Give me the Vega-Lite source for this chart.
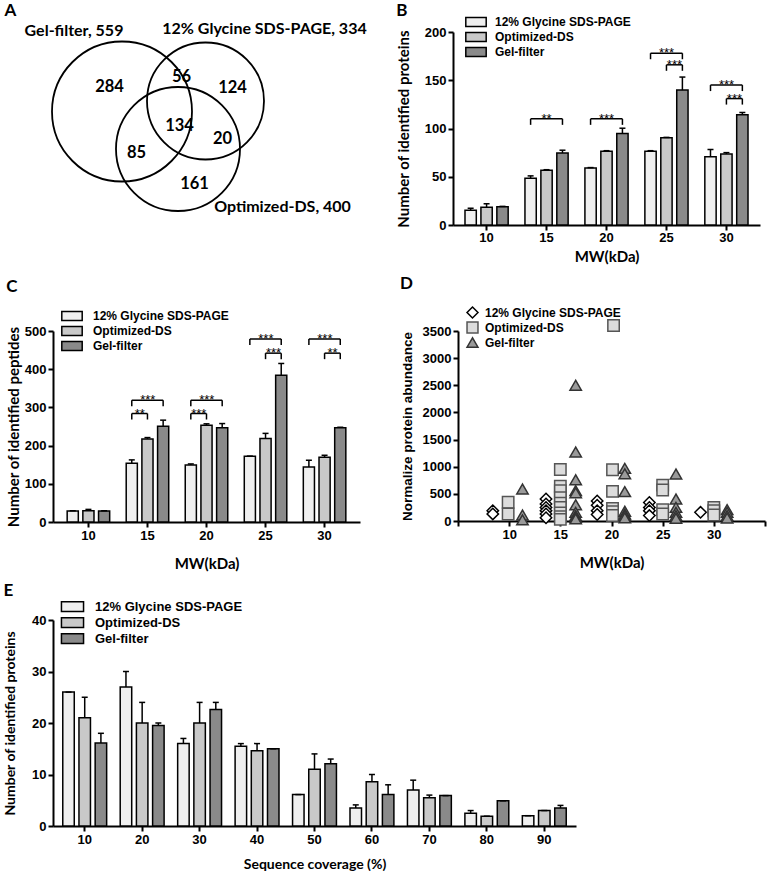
{
  "$schema": "https://vega.github.io/schema/vega-lite/v6.json",
  "background": "white",
  "padding": {"left": 3, "top": 2, "right": 2, "bottom": 0},
  "config": {
    "view": {"stroke": null},
    "axis": {"domainColor": "black", "domainWidth": 2, "tickColor": "black", "tickWidth": 2, "tickSize": 5, "labelFont": "Liberation Sans", "labelFontWeight": "bold", "labelFontSize": 13, "labelColor": "black", "labelPadding": 2, "labelOverlap": false, "titleFont": "Lato", "titleFontWeight": "bold", "titleFontSize": 15, "titleColor": "black", "grid": false},
    "legend": {"orient": "none", "labelFont": "Liberation Sans", "labelFontWeight": "bold", "labelFontSize": 12, "labelColor": "black", "symbolStrokeColor": "black", "symbolStrokeWidth": 1.5, "symbolType": "M-1.7,-0.75H1.7V0.75H-1.7Z", "symbolSize": 144, "rowPadding": -4, "labelOffset": 12, "padding": 0},
    "title": {"anchor": "start", "frame": "bounds", "font": "Lato", "fontSize": 17, "fontWeight": "bold", "color": "black"}
  },
  "datasets": {
    "vennCircles": [
      {"set": "Gel-filter", "cx": 122.5, "cy": 112.5, "r": 70},
      {"set": "12% Glycine SDS-PAGE", "cx": 206, "cy": 102, "r": 58.5},
      {"set": "Optimized-DS", "cx": 178.5, "cy": 150, "r": 62}
    ],
    "vennText": [
      {"kind": "label", "text": "Gel-filter, 559", "x": 74.5, "y": 32},
      {"kind": "label", "text": "12% Glycine SDS-PAGE, 334", "x": 265, "y": 30},
      {"kind": "label", "text": "Optimized-DS, 400", "x": 283, "y": 208},
      {"kind": "count", "text": "284", "x": 110, "y": 88},
      {"kind": "count", "text": "56", "x": 182, "y": 78},
      {"kind": "count", "text": "124", "x": 233, "y": 89},
      {"kind": "count", "text": "134", "x": 180, "y": 127},
      {"kind": "count", "text": "20", "x": 223, "y": 140},
      {"kind": "count", "text": "85", "x": 137, "y": 154},
      {"kind": "count", "text": "161", "x": 195, "y": 185}
    ],
    "bData": [
      {"mw": "10", "series": "12% Glycine SDS-PAGE", "value": 15.2, "hi": 17.3},
      {"mw": "10", "series": "Optimized-DS", "value": 18.5, "hi": 22},
      {"mw": "10", "series": "Gel-filter", "value": 18.8, "hi": 19.3},
      {"mw": "15", "series": "12% Glycine SDS-PAGE", "value": 48.4, "hi": 50.9},
      {"mw": "15", "series": "Optimized-DS", "value": 56.8, "hi": 57.3},
      {"mw": "15", "series": "Gel-filter", "value": 74.7, "hi": 77.5},
      {"mw": "20", "series": "12% Glycine SDS-PAGE", "value": 59, "hi": 59.5},
      {"mw": "20", "series": "Optimized-DS", "value": 76.3, "hi": 77},
      {"mw": "20", "series": "Gel-filter", "value": 94.8, "hi": 100.3},
      {"mw": "25", "series": "12% Glycine SDS-PAGE", "value": 76.3, "hi": 77},
      {"mw": "25", "series": "Optimized-DS", "value": 90.3, "hi": 90.8},
      {"mw": "25", "series": "Gel-filter", "value": 139.8, "hi": 153.3},
      {"mw": "30", "series": "12% Glycine SDS-PAGE", "value": 70.6, "hi": 78.2},
      {"mw": "30", "series": "Optimized-DS", "value": 73.6, "hi": 75},
      {"mw": "30", "series": "Gel-filter", "value": 114.2, "hi": 116.6}
    ],
    "bSig": [
      {"mw": "15", "from": "12% Glycine SDS-PAGE", "to": "Gel-filter", "level": 110, "label": "**"},
      {"mw": "20", "from": "12% Glycine SDS-PAGE", "to": "Gel-filter", "level": 110, "label": "***"},
      {"mw": "25", "from": "12% Glycine SDS-PAGE", "to": "Gel-filter", "level": 178, "label": "***"},
      {"mw": "25", "from": "Optimized-DS", "to": "Gel-filter", "level": 166, "label": "***"},
      {"mw": "30", "from": "12% Glycine SDS-PAGE", "to": "Gel-filter", "level": 145, "label": "***"},
      {"mw": "30", "from": "Optimized-DS", "to": "Gel-filter", "level": 131, "label": "***"}
    ],
    "cData": [
      {"mw": "10", "series": "12% Glycine SDS-PAGE", "value": 28.8, "hi": 29.5},
      {"mw": "10", "series": "Optimized-DS", "value": 29.7, "hi": 33},
      {"mw": "10", "series": "Gel-filter", "value": 28.8, "hi": 29.5},
      {"mw": "15", "series": "12% Glycine SDS-PAGE", "value": 153.8, "hi": 162.6},
      {"mw": "15", "series": "Optimized-DS", "value": 217.6, "hi": 221},
      {"mw": "15", "series": "Gel-filter", "value": 250.8, "hi": 266.6},
      {"mw": "20", "series": "12% Glycine SDS-PAGE", "value": 149.5, "hi": 152},
      {"mw": "20", "series": "Optimized-DS", "value": 253.3, "hi": 257},
      {"mw": "20", "series": "Gel-filter", "value": 247, "hi": 257.7},
      {"mw": "25", "series": "12% Glycine SDS-PAGE", "value": 172, "hi": 172.5},
      {"mw": "25", "series": "Optimized-DS", "value": 218.4, "hi": 232},
      {"mw": "25", "series": "Gel-filter", "value": 384.4, "hi": 415},
      {"mw": "30", "series": "12% Glycine SDS-PAGE", "value": 144, "hi": 161.6},
      {"mw": "30", "series": "Optimized-DS", "value": 169.4, "hi": 174.7},
      {"mw": "30", "series": "Gel-filter", "value": 247, "hi": 248}
    ],
    "cSig": [
      {"mw": "15", "from": "12% Glycine SDS-PAGE", "to": "Gel-filter", "level": 319, "label": "***"},
      {"mw": "15", "from": "12% Glycine SDS-PAGE", "to": "Optimized-DS", "level": 284, "label": "**"},
      {"mw": "20", "from": "12% Glycine SDS-PAGE", "to": "Gel-filter", "level": 319, "label": "***"},
      {"mw": "20", "from": "12% Glycine SDS-PAGE", "to": "Optimized-DS", "level": 284, "label": "***"},
      {"mw": "25", "from": "12% Glycine SDS-PAGE", "to": "Gel-filter", "level": 479, "label": "***"},
      {"mw": "25", "from": "Optimized-DS", "to": "Gel-filter", "level": 442, "label": "***"},
      {"mw": "30", "from": "12% Glycine SDS-PAGE", "to": "Gel-filter", "level": 479, "label": "***"},
      {"mw": "30", "from": "Optimized-DS", "to": "Gel-filter", "level": 442, "label": "**"}
    ],
    "dData": [
      {"series": "12% Glycine SDS-PAGE", "x": 8.4, "value": 190},
      {"series": "12% Glycine SDS-PAGE", "x": 8.4, "value": 130},
      {"series": "12% Glycine SDS-PAGE", "x": 13.6, "value": 405},
      {"series": "12% Glycine SDS-PAGE", "x": 13.6, "value": 313},
      {"series": "12% Glycine SDS-PAGE", "x": 13.6, "value": 250},
      {"series": "12% Glycine SDS-PAGE", "x": 13.6, "value": 190},
      {"series": "12% Glycine SDS-PAGE", "x": 13.6, "value": 130},
      {"series": "12% Glycine SDS-PAGE", "x": 13.6, "value": 60},
      {"series": "12% Glycine SDS-PAGE", "x": 18.6, "value": 370},
      {"series": "12% Glycine SDS-PAGE", "x": 18.6, "value": 290},
      {"series": "12% Glycine SDS-PAGE", "x": 18.6, "value": 190},
      {"series": "12% Glycine SDS-PAGE", "x": 18.6, "value": 120},
      {"series": "12% Glycine SDS-PAGE", "x": 23.7, "value": 340},
      {"series": "12% Glycine SDS-PAGE", "x": 23.7, "value": 250},
      {"series": "12% Glycine SDS-PAGE", "x": 23.7, "value": 190},
      {"series": "12% Glycine SDS-PAGE", "x": 23.7, "value": 100},
      {"series": "12% Glycine SDS-PAGE", "x": 28.7, "value": 160},
      {"series": "Optimized-DS", "x": 9.9, "value": 345},
      {"series": "Optimized-DS", "x": 9.9, "value": 130},
      {"series": "Optimized-DS", "x": 15.0, "value": 950},
      {"series": "Optimized-DS", "x": 15.0, "value": 640},
      {"series": "Optimized-DS", "x": 15.0, "value": 560},
      {"series": "Optimized-DS", "x": 15.0, "value": 430},
      {"series": "Optimized-DS", "x": 15.0, "value": 330},
      {"series": "Optimized-DS", "x": 15.0, "value": 250},
      {"series": "Optimized-DS", "x": 15.0, "value": 150},
      {"series": "Optimized-DS", "x": 15.0, "value": 80},
      {"series": "Optimized-DS", "x": 15.0, "value": 30},
      {"series": "Optimized-DS", "x": 20.2, "value": 3600},
      {"series": "Optimized-DS", "x": 20.1, "value": 945},
      {"series": "Optimized-DS", "x": 20.1, "value": 545},
      {"series": "Optimized-DS", "x": 20.1, "value": 230},
      {"series": "Optimized-DS", "x": 20.1, "value": 170},
      {"series": "Optimized-DS", "x": 20.1, "value": 100},
      {"series": "Optimized-DS", "x": 25.0, "value": 660},
      {"series": "Optimized-DS", "x": 25.0, "value": 570},
      {"series": "Optimized-DS", "x": 25.0, "value": 210},
      {"series": "Optimized-DS", "x": 25.0, "value": 130},
      {"series": "Optimized-DS", "x": 30.0, "value": 250},
      {"series": "Optimized-DS", "x": 30.0, "value": 190},
      {"series": "Optimized-DS", "x": 30.0, "value": 110},
      {"series": "Gel-filter", "x": 11.3, "value": 590},
      {"series": "Gel-filter", "x": 11.3, "value": 110},
      {"series": "Gel-filter", "x": 11.3, "value": 20},
      {"series": "Gel-filter", "x": 16.5, "value": 2500},
      {"series": "Gel-filter", "x": 16.5, "value": 1270},
      {"series": "Gel-filter", "x": 16.5, "value": 760},
      {"series": "Gel-filter", "x": 16.5, "value": 560},
      {"series": "Gel-filter", "x": 16.5, "value": 520},
      {"series": "Gel-filter", "x": 16.5, "value": 300},
      {"series": "Gel-filter", "x": 16.5, "value": 160},
      {"series": "Gel-filter", "x": 16.5, "value": 100},
      {"series": "Gel-filter", "x": 16.5, "value": 70},
      {"series": "Gel-filter", "x": 16.5, "value": 40},
      {"series": "Gel-filter", "x": 21.3, "value": 970},
      {"series": "Gel-filter", "x": 21.3, "value": 870},
      {"series": "Gel-filter", "x": 21.3, "value": 540},
      {"series": "Gel-filter", "x": 21.3, "value": 180},
      {"series": "Gel-filter", "x": 21.3, "value": 130},
      {"series": "Gel-filter", "x": 21.3, "value": 100},
      {"series": "Gel-filter", "x": 21.3, "value": 60},
      {"series": "Gel-filter", "x": 26.3, "value": 865},
      {"series": "Gel-filter", "x": 26.3, "value": 405},
      {"series": "Gel-filter", "x": 26.3, "value": 250},
      {"series": "Gel-filter", "x": 26.3, "value": 160},
      {"series": "Gel-filter", "x": 26.3, "value": 100},
      {"series": "Gel-filter", "x": 26.3, "value": 50},
      {"series": "Gel-filter", "x": 31.3, "value": 210},
      {"series": "Gel-filter", "x": 31.3, "value": 160},
      {"series": "Gel-filter", "x": 31.3, "value": 100},
      {"series": "Gel-filter", "x": 31.3, "value": 55}
    ],
    "eData": [
      {"cov": "10", "series": "12% Glycine SDS-PAGE", "value": 26, "hi": 26},
      {"cov": "10", "series": "Optimized-DS", "value": 21, "hi": 25},
      {"cov": "10", "series": "Gel-filter", "value": 16.1, "hi": 18},
      {"cov": "20", "series": "12% Glycine SDS-PAGE", "value": 27, "hi": 30},
      {"cov": "20", "series": "Optimized-DS", "value": 20, "hi": 24},
      {"cov": "20", "series": "Gel-filter", "value": 19.5, "hi": 20},
      {"cov": "30", "series": "12% Glycine SDS-PAGE", "value": 16, "hi": 17},
      {"cov": "30", "series": "Optimized-DS", "value": 20, "hi": 24},
      {"cov": "30", "series": "Gel-filter", "value": 22.6, "hi": 24},
      {"cov": "40", "series": "12% Glycine SDS-PAGE", "value": 15.5, "hi": 16},
      {"cov": "40", "series": "Optimized-DS", "value": 14.6, "hi": 16},
      {"cov": "40", "series": "Gel-filter", "value": 15, "hi": 15},
      {"cov": "50", "series": "12% Glycine SDS-PAGE", "value": 6.1, "hi": 6.1},
      {"cov": "50", "series": "Optimized-DS", "value": 11, "hi": 14},
      {"cov": "50", "series": "Gel-filter", "value": 12.1, "hi": 13},
      {"cov": "60", "series": "12% Glycine SDS-PAGE", "value": 3.5, "hi": 4.1},
      {"cov": "60", "series": "Optimized-DS", "value": 8.6, "hi": 10},
      {"cov": "60", "series": "Gel-filter", "value": 6.1, "hi": 8},
      {"cov": "70", "series": "12% Glycine SDS-PAGE", "value": 7, "hi": 8.9},
      {"cov": "70", "series": "Optimized-DS", "value": 5.5, "hi": 6},
      {"cov": "70", "series": "Gel-filter", "value": 5.9, "hi": 5.9},
      {"cov": "80", "series": "12% Glycine SDS-PAGE", "value": 2.5, "hi": 3},
      {"cov": "80", "series": "Optimized-DS", "value": 1.9, "hi": 1.9},
      {"cov": "80", "series": "Gel-filter", "value": 4.9, "hi": 4.9},
      {"cov": "90", "series": "12% Glycine SDS-PAGE", "value": 2, "hi": 2},
      {"cov": "90", "series": "Optimized-DS", "value": 3, "hi": 3},
      {"cov": "90", "series": "Gel-filter", "value": 3.5, "hi": 4}
    ]
  },
  "resolve": {"scale": {"fill": "independent", "shape": "independent", "stroke": "independent", "xOffset": "independent", "size": "independent"}, "legend": {"fill": "independent", "shape": "independent", "stroke": "independent"}},
  "spacing": 11,
  "align": "none",
  "vconcat": [
    {
      "hconcat": [
        {
          "title": {"text": "A", "frame": "group", "offset": 1, "dx": -48.5},
          "width": 338,
          "height": 215,
          "layer": [
            {
              "data": {"name": "vennCircles"},
              "mark": {"type": "point", "shape": "circle", "filled": false, "color": "black", "strokeWidth": 1.8, "opacity": 1},
              "encoding": {
                "x": {"field": "cx", "type": "quantitative", "scale": {"domain": [53.5, 391.5], "nice": false, "zero": false}, "axis": null},
                "y": {"field": "cy", "type": "quantitative", "scale": {"domain": [33, 248], "nice": false, "zero": false, "reverse": true}, "axis": null},
                "size": {"field": "r", "type": "quantitative", "scale": {"type": "pow", "exponent": 2, "domain": [0, 100], "range": [0, 40000]}, "legend": null}
              }
            },
            {
              "data": {"name": "vennText"},
              "transform": [{"filter": "datum.kind == 'label'"}],
              "mark": {"type": "text", "font": "Lato", "fontWeight": "bold", "fontSize": 16, "color": "black", "baseline": "middle"},
              "encoding": {
                "x": {"field": "x", "type": "quantitative"},
                "y": {"field": "y", "type": "quantitative"},
                "text": {"field": "text"}
              }
            },
            {
              "data": {"name": "vennText"},
              "transform": [{"filter": "datum.kind == 'count'"}],
              "mark": {"type": "text", "font": "Lato", "fontWeight": "bold", "fontSize": 16.5, "color": "black", "baseline": "middle"},
              "encoding": {
                "x": {"field": "x", "type": "quantitative"},
                "y": {"field": "y", "type": "quantitative"},
                "text": {"field": "text"}
              }
            }
          ]
        },
        {
          "title": {"text": "B", "offset": -5},
          "width": 307,
          "height": 193,
          "layer": [
            {
              "data": {"name": "bData"},
              "mark": {"type": "bar", "stroke": "black", "strokeWidth": 1.5},
              "encoding": {
                "x": {"field": "mw", "type": "nominal", "scale": {"paddingInner": 0.28, "paddingOuter": 0.2}, "axis": {"title": "MW(kDa)", "labelAngle": 0, "labelPadding": 1, "titlePadding": 5}},
                "xOffset": {"field": "series", "type": "nominal", "scale": {"domain": ["12% Glycine SDS-PAGE", "Optimized-DS", "Gel-filter"], "paddingInner": 0.29, "paddingOuter": 0}},
                "y": {"field": "value", "type": "quantitative", "stack": null, "scale": {"domain": [0, 200], "nice": false}, "axis": {"title": "Number of identified proteins", "values": [0, 50, 100, 150, 200], "labelOverlap": false, "titlePadding": 13}},
                "fill": {"field": "series", "type": "nominal", "scale": {"domain": ["12% Glycine SDS-PAGE", "Optimized-DS", "Gel-filter"], "range": ["#efefef", "#c9c9c9", "#8a8a8a"]}, "legend": {"title": null, "legendX": 16, "legendY": -17}}
              }
            },
            {
              "data": {"name": "bData"},
              "mark": {"type": "rule", "color": "black", "strokeWidth": 1.5},
              "encoding": {
                "x": {"field": "mw", "type": "nominal"},
                "xOffset": {"field": "series", "type": "nominal", "scale": {"domain": ["12% Glycine SDS-PAGE", "Optimized-DS", "Gel-filter"]}},
                "y": {"field": "value", "type": "quantitative"},
                "y2": {"field": "hi"}
              }
            },
            {
              "data": {"name": "bData"},
              "mark": {"type": "tick", "orient": "horizontal", "color": "black", "size": 6, "thickness": 1.5, "opacity": 1},
              "encoding": {
                "x": {"field": "mw", "type": "nominal"},
                "xOffset": {"field": "series", "type": "nominal", "scale": {"domain": ["12% Glycine SDS-PAGE", "Optimized-DS", "Gel-filter"]}},
                "y": {"field": "hi", "type": "quantitative"}
              }
            },
            {
              "data": {"name": "bSig"},
              "transform": [{"fold": ["from", "to"], "as": ["end", "series"]}],
              "mark": {"type": "line", "color": "black", "strokeWidth": 1.5},
              "encoding": {
                "x": {"field": "mw", "type": "nominal"},
                "xOffset": {"field": "series", "type": "nominal", "scale": {"domain": ["12% Glycine SDS-PAGE", "Optimized-DS", "Gel-filter"]}},
                "y": {"field": "level", "type": "quantitative"},
                "detail": [{"field": "mw"}, {"field": "from"}]
              }
            },
            {
              "data": {"name": "bSig"},
              "transform": [{"fold": ["from", "to"], "as": ["end", "series"]}],
              "mark": {"type": "rule", "color": "black", "strokeWidth": 1.5, "y2Offset": 6},
              "encoding": {
                "x": {"field": "mw", "type": "nominal"},
                "xOffset": {"field": "series", "type": "nominal", "scale": {"domain": ["12% Glycine SDS-PAGE", "Optimized-DS", "Gel-filter"]}},
                "y": {"field": "level", "type": "quantitative"},
                "y2": {"field": "level"}
              }
            },
            {
              "data": {"name": "bSig"},
              "transform": [{"filter": "datum.from == '12% Glycine SDS-PAGE' && datum.to == 'Gel-filter'"}],
              "mark": {"type": "text", "font": "Liberation Sans", "fontSize": 13, "dx": 16, "dy": 4, "baseline": "alphabetic", "color": "black"},
              "encoding": {
                "x": {"field": "mw", "type": "nominal"},
                "xOffset": {"field": "from", "type": "nominal", "scale": {"domain": ["12% Glycine SDS-PAGE", "Optimized-DS", "Gel-filter"]}},
                "y": {"field": "level", "type": "quantitative"},
                "text": {"field": "label"}
              }
            },
            {
              "data": {"name": "bSig"},
              "transform": [{"filter": "!(datum.from == '12% Glycine SDS-PAGE' && datum.to == 'Gel-filter')"}],
              "mark": {"type": "text", "font": "Liberation Sans", "fontSize": 13, "dx": 8, "dy": 4, "baseline": "alphabetic", "color": "black"},
              "encoding": {
                "x": {"field": "mw", "type": "nominal"},
                "xOffset": {"field": "from", "type": "nominal", "scale": {"domain": ["12% Glycine SDS-PAGE", "Optimized-DS", "Gel-filter"]}},
                "y": {"field": "level", "type": "quantitative"},
                "text": {"field": "label"}
              }
            }
          ]
        }
      ],
      "spacing": 5,
      "align": "none",
      "resolve": {"scale": {"fill": "independent", "xOffset": "independent", "size": "independent"}}
    },
    {
      "hconcat": [
        {
          "title": {"text": "C", "offset": 13},
          "width": 307,
          "height": 191,
          "layer": [
            {
              "data": {"name": "cData"},
              "mark": {"type": "bar", "stroke": "black", "strokeWidth": 1.5},
              "encoding": {
                "x": {"field": "mw", "type": "nominal", "scale": {"paddingInner": 0.28, "paddingOuter": 0.24}, "axis": {"title": "MW(kDa)", "labelAngle": 0, "titlePadding": 14}},
                "xOffset": {"field": "series", "type": "nominal", "scale": {"domain": ["12% Glycine SDS-PAGE", "Optimized-DS", "Gel-filter"], "paddingInner": 0.29, "paddingOuter": 0}},
                "y": {"field": "value", "type": "quantitative", "stack": null, "scale": {"domain": [0, 500], "nice": false}, "axis": {"title": "Number of identified peptides", "tickCount": 5, "labelOverlap": false, "labelSeparation": 0, "titlePadding": 3}},
                "fill": {"field": "series", "type": "nominal", "scale": {"domain": ["12% Glycine SDS-PAGE", "Optimized-DS", "Gel-filter"], "range": ["#efefef", "#c9c9c9", "#8a8a8a"]}, "legend": {"title": null, "legendX": 12, "legendY": -22, "labelOffset": 14, "rowPadding": -5}}
              }
            },
            {
              "data": {"name": "cData"},
              "mark": {"type": "rule", "color": "black", "strokeWidth": 1.5},
              "encoding": {
                "x": {"field": "mw", "type": "nominal"},
                "xOffset": {"field": "series", "type": "nominal", "scale": {"domain": ["12% Glycine SDS-PAGE", "Optimized-DS", "Gel-filter"]}},
                "y": {"field": "value", "type": "quantitative"},
                "y2": {"field": "hi"}
              }
            },
            {
              "data": {"name": "cData"},
              "mark": {"type": "tick", "orient": "horizontal", "color": "black", "size": 6, "thickness": 1.5, "opacity": 1},
              "encoding": {
                "x": {"field": "mw", "type": "nominal"},
                "xOffset": {"field": "series", "type": "nominal", "scale": {"domain": ["12% Glycine SDS-PAGE", "Optimized-DS", "Gel-filter"]}},
                "y": {"field": "hi", "type": "quantitative"}
              }
            },
            {
              "data": {"name": "cSig"},
              "transform": [{"fold": ["from", "to"], "as": ["end", "series"]}],
              "mark": {"type": "line", "color": "black", "strokeWidth": 1.5},
              "encoding": {
                "x": {"field": "mw", "type": "nominal"},
                "xOffset": {"field": "series", "type": "nominal", "scale": {"domain": ["12% Glycine SDS-PAGE", "Optimized-DS", "Gel-filter"]}},
                "y": {"field": "level", "type": "quantitative"},
                "detail": [{"field": "mw"}, {"field": "from"}, {"field": "to"}]
              }
            },
            {
              "data": {"name": "cSig"},
              "transform": [{"fold": ["from", "to"], "as": ["end", "series"]}],
              "mark": {"type": "rule", "color": "black", "strokeWidth": 1.5, "y2Offset": 6},
              "encoding": {
                "x": {"field": "mw", "type": "nominal"},
                "xOffset": {"field": "series", "type": "nominal", "scale": {"domain": ["12% Glycine SDS-PAGE", "Optimized-DS", "Gel-filter"]}},
                "y": {"field": "level", "type": "quantitative"},
                "y2": {"field": "level"}
              }
            },
            {
              "data": {"name": "cSig"},
              "transform": [{"filter": "datum.from == '12% Glycine SDS-PAGE' && datum.to == 'Gel-filter'"}],
              "mark": {"type": "text", "font": "Liberation Sans", "fontSize": 13, "dx": 16, "dy": 4, "baseline": "alphabetic", "color": "black"},
              "encoding": {
                "x": {"field": "mw", "type": "nominal"},
                "xOffset": {"field": "from", "type": "nominal", "scale": {"domain": ["12% Glycine SDS-PAGE", "Optimized-DS", "Gel-filter"]}},
                "y": {"field": "level", "type": "quantitative"},
                "text": {"field": "label"}
              }
            },
            {
              "data": {"name": "cSig"},
              "transform": [{"filter": "!(datum.from == '12% Glycine SDS-PAGE' && datum.to == 'Gel-filter')"}],
              "mark": {"type": "text", "font": "Liberation Sans", "fontSize": 13, "dx": 8, "dy": 4, "baseline": "alphabetic", "color": "black"},
              "encoding": {
                "x": {"field": "mw", "type": "nominal"},
                "xOffset": {"field": "from", "type": "nominal", "scale": {"domain": ["12% Glycine SDS-PAGE", "Optimized-DS", "Gel-filter"]}},
                "y": {"field": "level", "type": "quantitative"},
                "text": {"field": "label"}
              }
            }
          ]
        },
        {
          "title": {"text": "D", "offset": 13},
          "width": 307,
          "height": 190,
          "data": {"name": "dData"},
          "mark": {"type": "point", "filled": true, "strokeWidth": 1.5, "opacity": 1, "size": 130},
          "encoding": {
            "x": {"field": "x", "type": "quantitative", "scale": {"domain": [5, 35], "nice": false, "zero": false}, "axis": {"title": "MW(kDa)", "values": [5, 10, 15, 20, 25, 30, 35], "labelExpr": "datum.value == 5 || datum.value == 35 ? '' : datum.label", "titlePadding": 14}},
            "y": {"field": "value", "type": "quantitative", "scale": {"domain": [0, 3500], "nice": false}, "axis": {"title": "Normalize protein abundance", "format": "d", "values": [0, 500, 1000, 1500, 2000, 2500, 3000, 3500], "labelOverlap": false, "titleFont": "Liberation Sans", "titleFontSize": 13.5, "titlePadding": 8}},
            "shape": {"field": "series", "type": "nominal", "scale": {"domain": ["12% Glycine SDS-PAGE", "Optimized-DS", "Gel-filter"], "range": ["diamond", "square", "triangle-up"]}, "legend": {"title": null, "legendX": 8, "legendY": -25, "symbolSize": 120, "labelOffset": 6, "rowPadding": -3.5}},
            "fill": {"field": "series", "type": "nominal", "scale": {"domain": ["12% Glycine SDS-PAGE", "Optimized-DS", "Gel-filter"], "range": ["white", "#dcdcdc", "#9a9a9a"]}, "legend": {"title": null, "legendX": 8, "legendY": -25, "symbolSize": 120, "labelOffset": 6, "rowPadding": -3.5}},
            "stroke": {"field": "series", "type": "nominal", "scale": {"domain": ["12% Glycine SDS-PAGE", "Optimized-DS", "Gel-filter"], "range": ["black", "#555555", "#333333"]}, "legend": {"title": null, "legendX": 8, "legendY": -25, "symbolSize": 120, "labelOffset": 6, "rowPadding": -3.5}}
          }
        }
      ],
      "spacing": 40,
      "align": "none",
      "resolve": {"scale": {"fill": "independent", "xOffset": "independent", "shape": "independent", "stroke": "independent"}}
    },
    {
      "title": {"text": "E", "offset": -1},
      "width": 523,
      "height": 206,
      "layer": [
        {
          "data": {"name": "eData"},
          "mark": {"type": "bar", "stroke": "black", "strokeWidth": 1.5},
          "encoding": {
            "x": {"field": "cov", "type": "nominal", "scale": {"paddingInner": 0.236, "paddingOuter": 0.17}, "axis": {"title": "Sequence coverage (%)", "titleFontSize": 14, "labelAngle": 0, "titlePadding": 11}},
            "xOffset": {"field": "series", "type": "nominal", "scale": {"domain": ["12% Glycine SDS-PAGE", "Optimized-DS", "Gel-filter"], "paddingInner": 0.29, "paddingOuter": 0}},
            "y": {"field": "value", "type": "quantitative", "stack": null, "scale": {"domain": [0, 40], "nice": false}, "axis": {"title": "Number of identified proteins", "titleFontSize": 14, "values": [0, 10, 20, 30, 40], "labelOverlap": false, "titlePadding": 14}},
            "fill": {"field": "series", "type": "nominal", "scale": {"domain": ["12% Glycine SDS-PAGE", "Optimized-DS", "Gel-filter"], "range": ["#efefef", "#c9c9c9", "#8a8a8a"]}, "legend": {"title": null, "legendX": 12, "legendY": -21, "labelFontSize": 13, "rowPadding": -2.5, "symbolSize": 169, "labelOffset": 15}}
          }
        },
        {
          "data": {"name": "eData"},
          "mark": {"type": "rule", "color": "black", "strokeWidth": 1.5},
          "encoding": {
            "x": {"field": "cov", "type": "nominal"},
            "xOffset": {"field": "series", "type": "nominal", "scale": {"domain": ["12% Glycine SDS-PAGE", "Optimized-DS", "Gel-filter"]}},
            "y": {"field": "value", "type": "quantitative"},
            "y2": {"field": "hi"}
          }
        },
        {
          "data": {"name": "eData"},
          "mark": {"type": "tick", "orient": "horizontal", "color": "black", "size": 6, "thickness": 1.5, "opacity": 1},
          "encoding": {
            "x": {"field": "cov", "type": "nominal"},
            "xOffset": {"field": "series", "type": "nominal", "scale": {"domain": ["12% Glycine SDS-PAGE", "Optimized-DS", "Gel-filter"]}},
            "y": {"field": "hi", "type": "quantitative"}
          }
        }
      ]
    }
  ]
}
